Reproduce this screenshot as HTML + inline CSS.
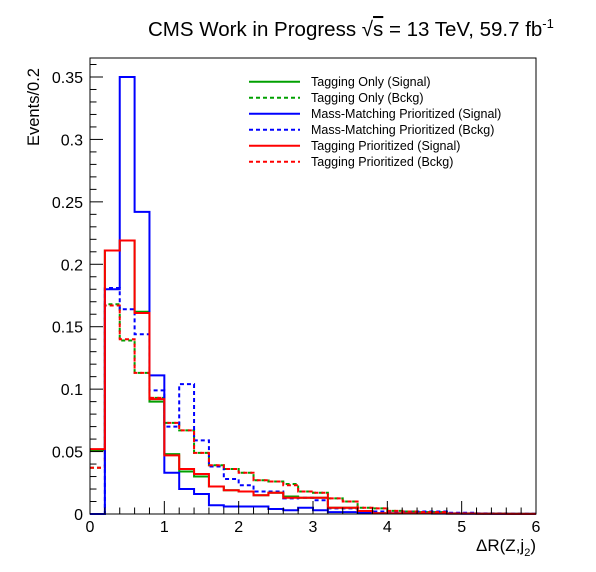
<!DOCTYPE html>
<html><head><meta charset="utf-8"><style>
body{margin:0;background:#fff}
svg{display:block;font-family:"Liberation Sans",sans-serif}
</style></head><body>
<svg id="c" width="596" height="572" viewBox="0 0 596 572">
<rect width="596" height="572" fill="#fff"/>
<g id="series"></g>
<rect x="90" y="58" width="446" height="456" fill="none" stroke="#000" stroke-width="1"/>
<g id="axes"></g>
<text x="148" y="36" font-size="20.5">CMS Work in Progress  √<tspan text-decoration="overline">s</tspan> = 13 TeV, 59.7 fb<tspan dy="-8" font-size="13">-1</tspan></text>
<text transform="translate(39,146) rotate(-90)" font-size="16.5">Events/0.2</text>
<text x="536" y="551" text-anchor="end" font-size="17">ΔR(Z,j<tspan dy="5" font-size="11">2</tspan><tspan dy="-5">)</tspan></text>
<g id="legend"></g>
</svg>
<script>
const binEdgesStart = 0, binWidth = 0.2;
const xTicks = [0,1,2,3,4,5,6];
const yTicks = [0,0.05,0.1,0.15,0.2,0.25,0.3,0.35];
const yTickLabels = ["0","0.05","0.1","0.15","0.2","0.25","0.3","0.35"];
const tagSig   = [0.051,0.211,0.219,0.162,0.090,0.048,0.034,0.030,0.022,0.019,0.018,0.015,0.017,0.014,0.013,0.013,0.005,0.005,0.0024,0.0006,0.0005,0.0005,0.0004,0.0004,0.0003,0.0003,0.0002,0.0002,0.0001,0.0001];
const tagBkg   = [0.037,0.168,0.139,0.113,0.093,0.073,0.067,0.049,0.039,0.036,0.033,0.027,0.026,0.024,0.018,0.017,0.0125,0.010,0.005,0.0045,0.0025,0.002,0.0015,0.0015,0.0005,0.0005,0.0003,0.0003,0.0002,0.0001];
const massSig  = [0,0.180,0.350,0.242,0.111,0.033,0.020,0.016,0.007,0.006,0.006,0.006,0.004,0.003,0.005,0.003,0.0015,0.0015,0.001,0.0005,0.0005,0.0005,0.0004,0.0003,0.0003,0.0002,0.0002,0.0001,0.0001,0.0001];
const massBkg  = [0,0.181,0.164,0.144,0.099,0.070,0.104,0.059,0.038,0.028,0.023,0.018,0.018,0.0125,0.013,0.011,0.0045,0.0045,0.002,0.002,0.002,0.002,0.002,0.002,0.001,0.001,0.0005,0.0005,0.0003,0.0002];
const tpSig    = [0.052,0.211,0.219,0.161,0.092,0.047,0.036,0.032,0.022,0.019,0.018,0.015,0.017,0.013,0.013,0.013,0.005,0.005,0.0024,0.0006,0.0005,0.0005,0.0004,0.0004,0.0003,0.0003,0.0002,0.0002,0.0001,0.0001];
const tpBkg    = [0.037,0.167,0.140,0.113,0.093,0.073,0.067,0.049,0.039,0.036,0.033,0.027,0.026,0.023,0.018,0.017,0.0125,0.010,0.005,0.0045,0.0025,0.002,0.0015,0.0015,0.0005,0.0005,0.0003,0.0003,0.0002,0.0001];
const seriesNames = ["Tagging Only (Signal)","Tagging Only (Bckg)","Mass-Matching Prioritized (Signal)","Mass-Matching Prioritized (Bckg)","Tagging Prioritized (Signal)","Tagging Prioritized (Bckg)"];

const NS="http://www.w3.org/2000/svg";
const X0=90,X1=536,Y0=514,YPX=1248.6;
function xs(v){return X0+(v/6)*(X1-X0);}
function ys(v){return Y0-v*YPX;}
function mk(t,a,p){const e=document.createElementNS(NS,t);for(const k in a)e.setAttribute(k,a[k]);p.appendChild(e);return e;}

const styles=[
 {d:tagSig,c:"#00a000",dash:null},{d:tagBkg,c:"#00a000",dash:"4,3"},
 {d:massSig,c:"#0000ff",dash:null},{d:massBkg,c:"#0000ff",dash:"4,3"},
 {d:tpSig,c:"#ff0000",dash:null},{d:tpBkg,c:"#ff0000",dash:"4,3"}];
const order=[1,3,5,0,2,4];
const sg=document.getElementById('series');
order.forEach(i=>{
 const s=styles[i];let p="";
 s.d.forEach((v,k)=>{const a=xs(binEdgesStart+k*binWidth),b=xs(binEdgesStart+(k+1)*binWidth),y=ys(v);
  p+=(k===0?"M"+a+","+y:"L"+a+","+y)+"L"+b+","+y;});
 const e=mk('path',{d:p,fill:"none",stroke:s.c,"stroke-width":2},sg);
 if(s.dash)e.setAttribute('stroke-dasharray',s.dash);
 
 
});

const ax=document.getElementById('axes');
for(let k=0;k<=30;k++){const v=k*0.2,x=xs(v),maj=k%5===0;
 const t=mk('line',{x1:x,x2:x,y1:Y0,y2:Y0-(maj?13:6.5),stroke:"#000"},ax);
 
 }
xTicks.forEach(v=>{const t=mk('text',{x:xs(v),y:532,"text-anchor":"middle","font-size":16},ax);t.textContent=v;
 
 });
for(let k=0;k<=36;k++){const v=k*0.01,y=ys(v),maj=k%5===0;
 const t=mk('line',{x1:X0,x2:X0+(maj?13:6.5),y1:y,y2:y,stroke:"#000"},ax);
 
 }
yTicks.forEach((v,i)=>{const t=mk('text',{x:83,y:ys(v)+6,"text-anchor":"end","font-size":16},ax);t.textContent=yTickLabels[i];
 
 });

const lg=document.getElementById('legend');
styles.forEach((s,i)=>{const y=81.7+16*i;
 const l=mk('line',{x1:249,x2:300,y1:y,y2:y,stroke:s.c,"stroke-width":2},lg);
 if(s.dash)l.setAttribute('stroke-dasharray','4,3');
 
 
 const t=mk('text',{x:311,y:y+4.5,"font-size":12.5},lg);t.textContent=seriesNames[i];
 
 });
</script>
</body></html>
